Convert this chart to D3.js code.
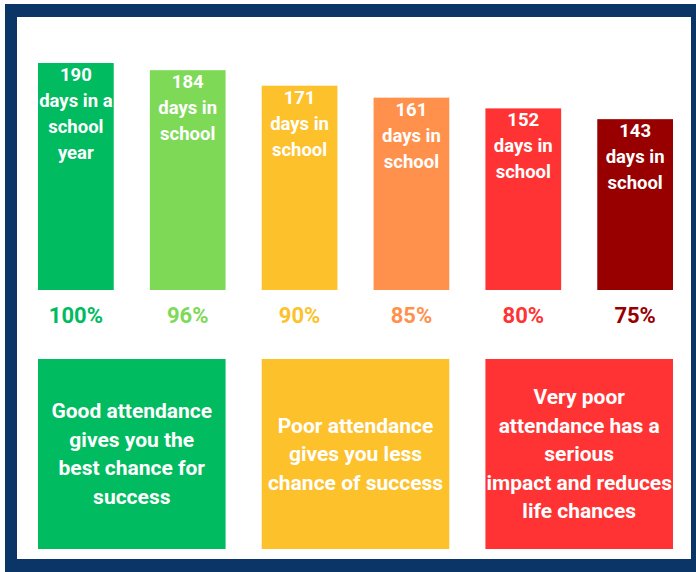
<!DOCTYPE html>
<meta charset="utf-8">
<script src="https://d3js.org/d3.v7.min.js"></script>
<style>
  body { margin: 0; background: #fff; }
  text { font-family: Roboto, "Noto Sans", sans-serif; font-weight: bold; }
</style>
<div id="chart"></div>
<script>
// data
var days = [190, 184, 171, 161, 152, 143];
var dayLabels = [
  ["190", "days in a", "school", "year"],
  ["184", "days in", "school"],
  ["171", "days in", "school"],
  ["161", "days in", "school"],
  ["152", "days in", "school"],
  ["143", "days in", "school"]
];
var percents = ["100%", "96%", "90%", "85%", "80%", "75%"];
var colors = ["#00bb5f", "#7ed957", "#fdc12c", "#ff914d", "#ff3334", "#980000"];
var boxTexts = [
  ["Good attendance", "gives you the", "best chance for", "success"],
  ["Poor attendance", "gives you less", "chance of success"],
  ["Very poor", "attendance has a", "serious", "impact and reduces", "life chances"]
];
var boxColors = ["#00bb5f", "#fdc12c", "#ff3334"];

var W = 696, H = 572;

var svg = d3.select("#chart")
  .append("svg")
    .attr("width", W)
    .attr("height", H);

// frame
svg.append("rect")
  .attr("x", 5).attr("y", 4)
  .attr("width", W - 5).attr("height", H - 4)
  .style("fill", "#0b3467");
svg.append("rect")
  .attr("x", 17).attr("y", 17)
  .attr("width", 674).attr("height", 542)
  .style("fill", "#ffffff");

// scales
var x = d3.scaleBand()
  .domain(d3.range(days.length))
  .range([38, 673])
  .paddingInner(0.323)
  .paddingOuter(0);

var y = d3.scaleLinear()
  .domain([0, 190])
  .range([290, 63]);

// bars
svg.selectAll("rect.bar")
  .data(days)
  .enter()
  .append("rect")
    .attr("class", "bar")
    .attr("x", function(d, i) { return x(i); })
    .attr("y", function(d) { return y(d); })
    .attr("width", x.bandwidth())
    .attr("height", function(d) { return y(0) - y(d); })
    .style("fill", function(d, i) { return colors[i]; });

// labels inside bars
svg.selectAll("text.dayLabel")
  .data(days)
  .enter()
  .append("text")
    .attr("class", "dayLabel")
    .attr("text-anchor", "middle")
    .attr("x", function(d, i) { return x(i) + x.bandwidth() / 2; })
    .attr("y", function(d) { return y(d) + 18; })
    .style("fill", "#ffffff")
    .style("font-size", "18.5px")
    .each(function(d, i) {
      var t = d3.select(this);
      dayLabels[i].forEach(function(line, j) {
        t.append("tspan")
          .attr("x", x(i) + x.bandwidth() / 2)
          .attr("dy", j === 0 ? 0 : 26)
          .text(line);
      });
    });

// percentages
svg.selectAll("text.pct")
  .data(percents)
  .enter()
  .append("text")
    .attr("class", "pct")
    .attr("text-anchor", "middle")
    .attr("x", function(d, i) { return x(i) + x.bandwidth() / 2; })
    .attr("y", 323)
    .style("fill", function(d, i) { return colors[i]; })
    .style("font-size", "22px")
    .text(function(d) { return d; });

// bottom boxes, each spans two bars
var boxTop = 359, boxBottom = 549, lineH = 28.5;

svg.selectAll("rect.box")
  .data(boxTexts)
  .enter()
  .append("rect")
    .attr("class", "box")
    .attr("x", function(d, i) { return x(i * 2); })
    .attr("y", boxTop)
    .attr("width", function(d, i) { return x(i * 2 + 1) + x.bandwidth() - x(i * 2); })
    .attr("height", boxBottom - boxTop)
    .style("fill", function(d, i) { return boxColors[i]; });

svg.selectAll("text.boxText")
  .data(boxTexts)
  .enter()
  .append("text")
    .attr("class", "boxText")
    .attr("text-anchor", "middle")
    .style("fill", "#ffffff")
    .style("font-size", "21px")
    .each(function(d, i) {
      var t = d3.select(this);
      var cx = (x(i * 2) + x(i * 2 + 1) + x.bandwidth()) / 2;
      var first = (boxTop + boxBottom) / 2 - (d.length - 1) * lineH / 2 + 7;
      d.forEach(function(line, j) {
        t.append("tspan")
          .attr("x", cx)
          .attr("y", first + j * lineH)
          .text(line);
      });
    });
</script>
